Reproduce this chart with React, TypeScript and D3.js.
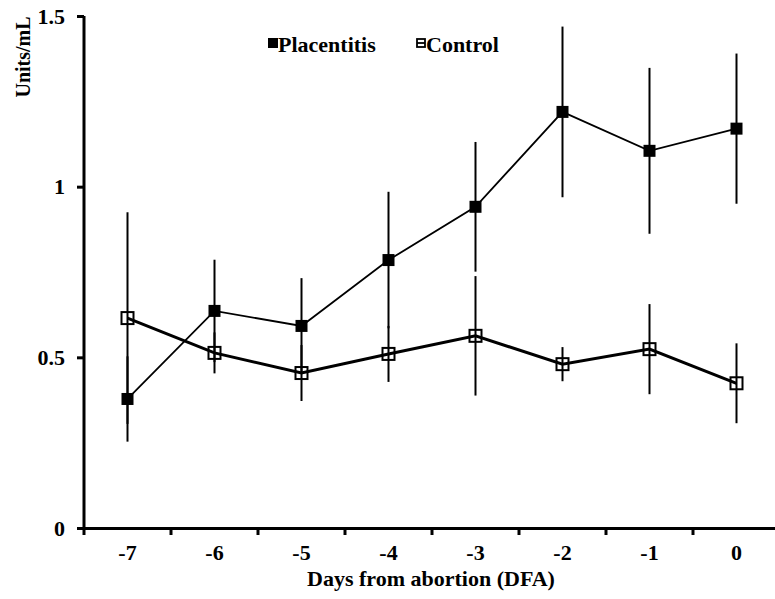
import React, { useRef, useEffect } from 'react';
import * as d3 from 'd3';

const days = ['-7', '-6', '-5', '-4', '-3', '-2', '-1', '0'];
const placentitis = [0.378, 0.636, 0.592, 0.785, 0.941, 1.219, 1.105, 1.17];
const placentitisErr = [0.125, 0.15, 0.14, 0.2, 0.19, 0.25, 0.243, 0.22];
const control = [0.615, 0.513, 0.454, 0.51, 0.563, 0.48, 0.524, 0.424];
const controlErr = [0.31, 0.06, 0.082, 0.082, 0.175, 0.05, 0.132, 0.117];
const yTicks = [0, 0.5, 1, 1.5];

const FONT = 'serif';

const App = () => {
  const chartRef = useRef<HTMLDivElement>(null);

  useEffect(() => {
    const width = 775;
    const height = 599;
    const margin = { top: 16, right: -5, bottom: 71, left: 84 };

    d3.select(chartRef.current).select('svg').remove();
    const svg = d3
      .select(chartRef.current)
      .append('svg')
      .attr('width', width)
      .attr('height', height)
      .attr('font-family', FONT)
      .style('position', 'absolute')
      .style('left', 0)
      .style('top', 0)
      .style('background', 'white');

    const xScale = d3
      .scaleBand()
      .domain(days)
      .range([margin.left, width - margin.right])
      .padding(0);
    const yScale = d3
      .scaleLinear()
      .domain([0, 1.5])
      .range([height - margin.bottom, margin.top]);
    const cx = (d: string) => (xScale(d) as number) + xScale.bandwidth() / 2;
    const y0 = yScale(0);

    // error bars (no caps)
    const bars = [
      ...control.map((v, i) => ({ day: days[i], v, e: controlErr[i] })),
      ...placentitis.map((v, i) => ({ day: days[i], v, e: placentitisErr[i] })),
    ];
    svg
      .selectAll('.err')
      .data(bars)
      .enter()
      .append('line')
      .attr('class', 'err')
      .attr('x1', d => cx(d.day))
      .attr('x2', d => cx(d.day))
      .attr('y1', d => yScale(d.v - d.e))
      .attr('y2', d => yScale(d.v + d.e))
      .attr('stroke', '#000')
      .attr('stroke-width', 2);

    const line = d3
      .line<number>()
      .x((d, i) => cx(days[i]))
      .y(d => yScale(d));

    svg
      .append('path')
      .attr('d', line(control))
      .attr('fill', 'none')
      .attr('stroke', '#000')
      .attr('stroke-width', 3);

    svg
      .append('path')
      .attr('d', line(placentitis))
      .attr('fill', 'none')
      .attr('stroke', '#000')
      .attr('stroke-width', 1.8);

    const s = 12;
    svg
      .selectAll('.ctrl')
      .data(control)
      .enter()
      .append('rect')
      .attr('class', 'ctrl')
      .attr('x', (d, i) => cx(days[i]) - s / 2)
      .attr('y', d => yScale(d) - s / 2)
      .attr('width', s)
      .attr('height', s)
      .attr('fill', 'none')
      .attr('stroke', '#000')
      .attr('stroke-width', 2);

    svg
      .selectAll('.plac')
      .data(placentitis)
      .enter()
      .append('rect')
      .attr('class', 'plac')
      .attr('x', (d, i) => cx(days[i]) - s / 2)
      .attr('y', d => yScale(d) - s / 2)
      .attr('width', s)
      .attr('height', s)
      .attr('fill', '#000');

    const bold = (sel: any, size: number) =>
      sel
        .attr('font-family', FONT)
        .attr('font-weight', 'bold')
        .attr('font-size', size)
        .attr('fill', '#000');

    // y axis
    const yAxis = svg
      .append('g')
      .attr('transform', `translate(${margin.left},0)`)
      .call(
        d3
          .axisLeft(yScale)
          .tickValues(yTicks)
          .tickSize(7)
          .tickPadding(12)
          .tickFormat(d => String(d))
      );
    yAxis.attr('font-family', FONT);
    yAxis.select('.domain').attr('stroke-width', 3).attr('d', `M0,${margin.top}V${y0}`);
    yAxis.selectAll('.tick line').attr('stroke-width', 3);
    bold(yAxis.selectAll('.tick text'), 22);

    // x axis: labels centered in bands, ticks on band edges
    const xAxis = svg
      .append('g')
      .attr('transform', `translate(0,${y0})`)
      .call(d3.axisBottom(xScale).tickSize(0).tickPadding(16));
    xAxis.attr('font-family', FONT);
    xAxis.select('.domain').attr('stroke-width', 3);
    bold(xAxis.selectAll('.tick text'), 22);
    svg
      .selectAll('.xtick')
      .data(days)
      .enter()
      .append('line')
      .attr('class', 'xtick')
      .attr('x1', d => xScale(d) as number)
      .attr('x2', d => xScale(d) as number)
      .attr('y1', y0)
      .attr('y2', y0 + 7)
      .attr('stroke', '#000')
      .attr('stroke-width', 3);

    bold(
      svg
        .append('text')
        .attr('x', 431)
        .attr('y', 586)
        .attr('text-anchor', 'middle')
        .text('Days from abortion (DFA)'),
      22
    );

    bold(
      svg
        .append('text')
        .attr('transform', 'translate(30,57) rotate(-90)')
        .attr('text-anchor', 'middle')
        .text('Units/mL'),
      20
    );

    // legend
    const legend = [
      { name: 'Placentitis', x: 268, filled: true },
      { name: 'Control', x: 416, filled: false },
    ];
    const lg = svg
      .selectAll('.legend')
      .data(legend)
      .enter()
      .append('g')
      .attr('class', 'legend')
      .attr('transform', d => `translate(${d.x},52)`);
    lg.append('rect')
      .attr('x', d => (d.filled ? 0 : 1))
      .attr('y', d => (d.filled ? -14 : -13))
      .attr('width', d => (d.filled ? 10 : 8))
      .attr('height', d => (d.filled ? 10 : 8))
      .attr('fill', d => (d.filled ? '#000' : 'none'))
      .attr('stroke', d => (d.filled ? 'none' : '#000'))
      .attr('stroke-width', 1.8);
    lg.filter(d => !d.filled)
      .append('line')
      .attr('x1', 1)
      .attr('x2', 9)
      .attr('y1', -9)
      .attr('y2', -9)
      .attr('stroke', '#000')
      .attr('stroke-width', 1.8);
    bold(
      lg
        .append('text')
        .attr('x', 10)
        .attr('y', 0)
        .text(d => d.name),
      22
    );
  }, []);

  return <div ref={chartRef} className="chart"></div>;
};

export default App;
